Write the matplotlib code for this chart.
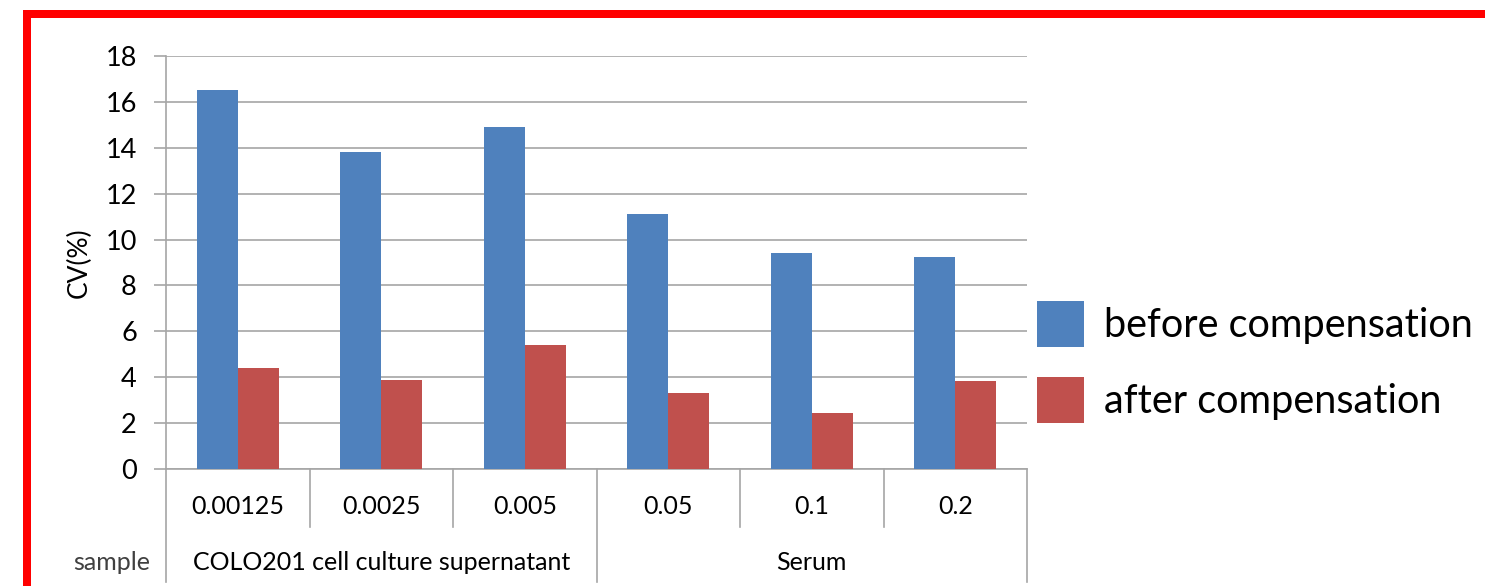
import matplotlib
matplotlib.use('Agg')
import matplotlib.pyplot as plt
import numpy as np
from matplotlib.patches import Rectangle, Patch

# data
concentrations = ['0.00125', '0.0025', '0.005', '0.05', '0.1', '0.2']
groups = ['COLO201 cell culture supernatant', 'Serum']
group_sizes = [3, 3]
before = [16.5, 13.8, 14.9, 11.1, 9.4, 9.25]
after = [4.4, 3.9, 5.4, 3.3, 2.45, 3.85]

blue = '#4F81BD'
red = '#C0504D'
grid_col = '#A6A6A6'

plt.rcParams['font.family'] = ['Lato', 'DejaVu Sans']

fig = plt.figure(figsize=(14.85, 5.86), dpi=100)
ax = fig.add_axes([166/1485, 117/586, 861/1485, 413/586])

x = np.arange(len(concentrations))
w = 0.286
ax.bar(x - w/2, before, width=w, color=blue, label='before compensation', zorder=3)
ax.bar(x + w/2, after, width=w, color=red, label='after compensation', zorder=3)

ax.set_xlim(-0.5, len(concentrations) - 0.5)
ax.set_ylim(0, 18)
ax.set_yticks(range(0, 19, 2))
ax.yaxis.grid(True, color=grid_col, linewidth=1.2, zorder=0)
ax.tick_params(axis='y', length=9, width=1.2, color=grid_col, labelsize=19.5, pad=12)
ax.set_ylabel('CV(%)', fontsize=19, labelpad=10)
ax.set_xticks([])
for s in ['top', 'right']:
    ax.spines[s].set_visible(False)
for s in ['left', 'bottom']:
    ax.spines[s].set_color(grid_col)
    ax.spines[s].set_linewidth(1.2)

# category table below the axis
tr = ax.get_xaxis_transform()
y_short = -58/413
y_long = -113/413
for i, c in enumerate(concentrations):
    ax.text(i, -37/413, c, transform=tr, ha='center', va='center', fontsize=18)
edges = np.cumsum([0] + group_sizes) - 0.5
for i in range(len(concentrations) + 1):
    xe = i - 0.5
    bottom = y_long if xe in edges else y_short
    ax.plot([xe, xe], [0, bottom], transform=tr, color=grid_col, lw=1.2, clip_on=False)
for g, a, b in zip(groups, edges[:-1], edges[1:]):
    ax.text((a + b) / 2, -93/413, g, transform=tr, ha='center', va='center', fontsize=18)
ax.text(-0.5 - 16/143.5, -93/413, 'sample', transform=tr, ha='right', va='center',
        fontsize=18, color='#404040')

# legend
handles = [Patch(facecolor=blue), Patch(facecolor=red)]
fig.legend(handles, ['before compensation', 'after compensation'],
           loc='center left', bbox_to_anchor=(1021/1485, 1 - 362/586),
           frameon=False, fontsize=28.5, handlelength=1.19, handleheight=1.43,
           handletextpad=0.5, labelspacing=0.75, borderaxespad=0)

# red frame
fig.patches.append(Rectangle((23/1485, 0), 8/1485, 1 - 10/586, transform=fig.transFigure,
                             color='red', lw=0))
fig.patches.append(Rectangle((23/1485, 1 - 18/586), 1, 8/586, transform=fig.transFigure,
                             color='red', lw=0))

fig.savefig('out.png', dpi=100)
